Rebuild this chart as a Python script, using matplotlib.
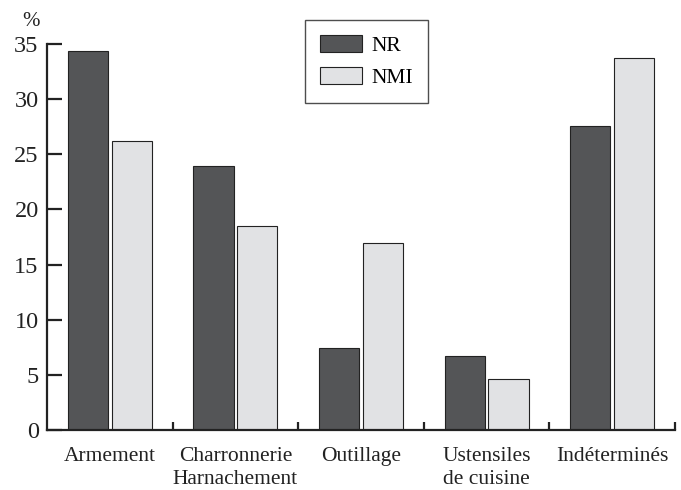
import matplotlib.pyplot as plt
import numpy as np

categories = ["Armement", "Charronnerie\nHarnachement", "Outillage", "Ustensiles\nde cuisine", "Indéterminés"]
nr = [34.4, 23.9, 7.4, 6.7, 27.6]
nmi = [26.2, 18.5, 17.0, 4.6, 33.7]
yticks = [0, 5, 10, 15, 20, 25, 30, 35]

plt.rcParams["font.family"] = "Liberation Serif"

fig = plt.figure(figsize=(6.81, 4.90), dpi=100)
ax = fig.add_axes([47 / 681, 1 - 430 / 490, 628 / 681, 386 / 490])

x = np.arange(len(categories)) + 0.5
w = 0.32
ax.bar(x - 0.175, nr, w, color="#545557", edgecolor="#222222", linewidth=0.8, label="NR")
ax.bar(x + 0.175, nmi, w, color="#e1e2e4", edgecolor="#222222", linewidth=0.8, label="NMI")

ax.set_xlim(0, len(categories))
ax.set_ylim(0, 35)
ax.set_yticks(yticks)
ax.tick_params(axis="y", direction="in", length=11, width=1.6, labelsize=17.5, pad=6, colors="#222222")
ax.set_xticks(np.arange(1, len(categories) + 1))
ax.set_xticklabels([])
ax.tick_params(axis="x", direction="in", length=6, width=1.6, colors="#222222")
for i, c in enumerate(categories):
    ax.text(x[i], -1.5, c, ha="center", va="top", fontsize=15.5, color="#222222", linespacing=1.3)

for s in ["top", "right"]:
    ax.spines[s].set_visible(False)
for s in ["left", "bottom"]:
    ax.spines[s].set_linewidth(1.6)
    ax.spines[s].set_color("#222222")

fig.text(22 / 681, 1 - 21 / 490, "%", fontsize=15, ha="left", va="center", color="#222222")

leg = ax.legend(loc="upper left", bbox_to_anchor=(305 / 681, 1 - 20 / 490), bbox_transform=fig.transFigure,
                fontsize=15.5, frameon=True, fancybox=False, handlelength=1.95, handleheight=0.85,
                borderpad=0.7, labelspacing=0.5, handletextpad=0.45, borderaxespad=0)
leg.get_frame().set_edgecolor("#222222")
leg.get_frame().set_linewidth(1.0)

fig.savefig("out.png", dpi=100)
